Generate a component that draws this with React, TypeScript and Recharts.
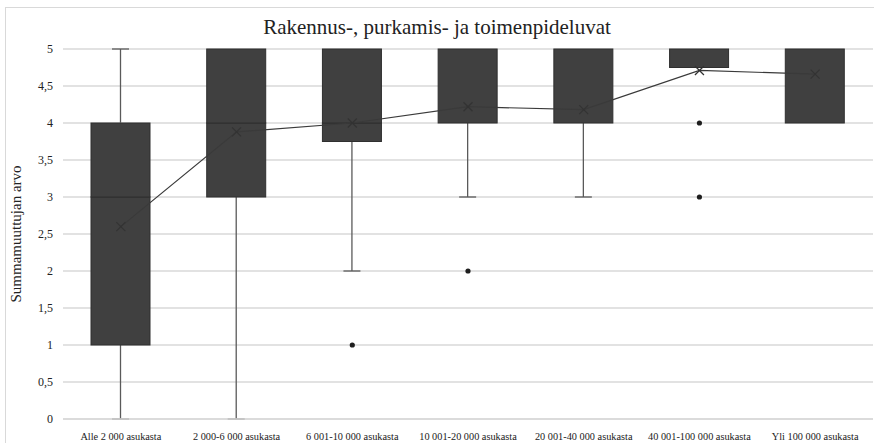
import { ComposedChart, Bar, Line, XAxis, YAxis, CartesianGrid, Label } from 'recharts';

const categories = [
  'Alle 2 000 asukasta',
  '2 000-6 000 asukasta',
  '6 001-10 000 asukasta',
  '10 001-20 000 asukasta',
  '20 001-40 000 asukasta',
  '40 001-100 000 asukasta',
  'Yli 100 000 asukasta',
];
const mins = [0, 0, 2, 3, 3, 4.75, 4];
const q1s = [1, 3, 3.75, 4, 4, 4.75, 4];
const medians = [3, 4, 4, 4, 4, 5, 5];
const q3s = [4, 5, 5, 5, 5, 5, 5];
const maxs = [5, 5, 5, 5, 5, 5, 5];
const means = [2.6, 3.88, 4.0, 4.22, 4.18, 4.71, 4.66];
const outliersA = [null, null, 1, 2, null, 4, null];
const outliersB = [null, null, null, null, null, 3, null];
const yTicks = [0, 0.5, 1, 1.5, 2, 2.5, 3, 3.5, 4, 4.5, 5];

const data = categories.map((name, i) => ({
  name,
  base: mins[i],
  lowWhisker: q1s[i] - mins[i],
  lowBox: medians[i] - q1s[i],
  highBox: q3s[i] - medians[i],
  highWhisker: maxs[i] - q3s[i],
  mean: means[i],
  outA: outliersA[i],
  outB: outliersB[i],
}));

const FONT = '"Liberation Serif", "Times New Roman", serif';
const BOX = '#404040';
const WHISKER = '#5a5a5a';

function LowWhisker(props: any) {
  const { x, y, width, height } = props;
  if (!height) return <g />;
  const cx = x + width / 2;
  return (
    <g>
      <line x1={cx} x2={cx} y1={y} y2={y + height} stroke={WHISKER} strokeWidth={1.3} />
      <line x1={cx - 8.5} x2={cx + 8.5} y1={y + height} y2={y + height} stroke={WHISKER} strokeWidth={1.3} />
    </g>
  );
}

function HighWhisker(props: any) {
  const { x, y, width, height } = props;
  if (!height) return <g />;
  const cx = x + width / 2;
  return (
    <g>
      <line x1={cx} x2={cx} y1={y} y2={y + height} stroke={WHISKER} strokeWidth={1.3} />
      <line x1={cx - 8.5} x2={cx + 8.5} y1={y} y2={y} stroke={WHISKER} strokeWidth={1.3} />
    </g>
  );
}

function BoxPart(props: any) {
  const { x, y, width, height } = props;
  return <rect x={x} y={y} width={width} height={height || 0} fill={BOX} stroke="#2f2f2f" strokeWidth={1} />;
}

function MeanMark(props: any) {
  const { cx, cy, index } = props;
  if (cx == null || cy == null) return <g key={`m${index}`} />;
  const s = 4.5;
  return (
    <g key={`m${index}`}>
      <line x1={cx - s} y1={cy - s} x2={cx + s} y2={cy + s} stroke="#333" strokeWidth={1.2} />
      <line x1={cx - s} y1={cy + s} x2={cx + s} y2={cy - s} stroke="#333" strokeWidth={1.2} />
    </g>
  );
}

function OutlierDot(props: any) {
  const { cx, cy, index, value } = props;
  if (value == null || cy == null || Number.isNaN(cy)) return <g key={`o${index}`} />;
  return <circle key={`o${index}`} cx={cx} cy={cy} r={2.6} fill="#1e1e1e" />;
}

export default function App() {
  return (
    <div style={{ position: 'absolute', left: 0, top: 0, width: 874, height: 443, overflow: 'hidden', background: '#fff' }}>
      <div
        style={{
          position: 'absolute',
          left: 5,
          top: 7,
          width: 900,
          height: 500,
          border: '1px solid #d9d9d9',
        }}
      />
      <div
        style={{
          position: 'absolute',
          left: 0,
          width: 874,
          top: 15,
          textAlign: 'center',
          fontFamily: FONT,
          fontSize: 21,
          color: '#222',
          lineHeight: '24px',
        }}
      >
        Rakennus-, purkamis- ja toimenpideluvat
      </div>
      <div style={{ position: 'absolute', left: 0, top: 0 }}>
        <ComposedChart width={874} height={443} data={data} margin={{ top: 49, right: 1, bottom: 0, left: 0 }}>
          <CartesianGrid vertical={false} stroke="#d9d9d9" strokeWidth={1.5} />
          <XAxis
            dataKey="name"
            height={24}
            tickLine={false}
            axisLine={{ stroke: '#d9d9d9', strokeWidth: 1.5 }}
            tick={{ fontFamily: FONT, fontSize: 10.3, fill: '#222' }}
            tickMargin={8}
            interval={0}
          />
          <YAxis
            type="number"
            domain={[0, 5]}
            ticks={yTicks}
            width={63}
            tickLine={false}
            axisLine={false}
            tickMargin={4}
            tick={{ fontFamily: FONT, fontSize: 12, fill: '#222' }}
            tickFormatter={(v: number) => String(v).replace('.', ',')}
          >
            <Label
              value="Summamuuttujan arvo"
              angle={-90}
              position="insideLeft"
              offset={16}
              style={{ textAnchor: 'middle', fontFamily: FONT, fontSize: 15, fill: '#222' }}
            />
          </YAxis>
          <Bar dataKey="base" stackId="box" fill="transparent" barSize={59} isAnimationActive={false} />
          <Bar dataKey="lowWhisker" stackId="box" barSize={59} shape={LowWhisker} isAnimationActive={false} />
          <Bar dataKey="lowBox" stackId="box" barSize={59} shape={BoxPart} isAnimationActive={false} />
          <Bar dataKey="highBox" stackId="box" barSize={59} shape={BoxPart} isAnimationActive={false} />
          <Bar dataKey="highWhisker" stackId="box" barSize={59} shape={HighWhisker} isAnimationActive={false} />
          <Line
            dataKey="mean"
            type="linear"
            stroke="#3a3a3a"
            strokeWidth={1.2}
            dot={MeanMark}
            activeDot={false}
            isAnimationActive={false}
          />
          <Line dataKey="outA" stroke="none" dot={OutlierDot} activeDot={false} isAnimationActive={false} />
          <Line dataKey="outB" stroke="none" dot={OutlierDot} activeDot={false} isAnimationActive={false} />
        </ComposedChart>
      </div>
    </div>
  );
}
